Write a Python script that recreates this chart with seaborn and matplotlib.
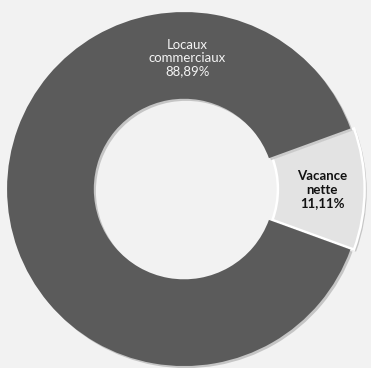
import matplotlib
matplotlib.use("Agg")
import matplotlib.pyplot as plt
import matplotlib.patheffects as pe
import seaborn as sns

# data
categories = ["Vacance\nnette", "Locaux\ncommerciaux"]
values = [11.11, 88.89]
colors = ["#e3e3e3", "#5b5b5b"]
text_colors = ["#111111", "#f4f4f4"]

sns.set_style("white")
plt.rcParams["font.family"] = ["Lato", "DejaVu Sans"]

fig = plt.figure(figsize=(3.71, 3.68), dpi=100, facecolor="#f2f2f2")
ax = fig.add_axes([0, 0, 1, 1])
ax.set_facecolor("#f2f2f2")

start = -values[0] / 100 * 360 / 2
wedges, _ = ax.pie(values, colors=colors, startangle=start, counterclock=True,
                   explode=[0.02, 0], radius=1.0,
                   wedgeprops=dict(width=0.49, linewidth=0))
wedges[0].set_edgecolor("white")
wedges[0].set_linewidth(1.8)
for w in wedges:
    w.set_path_effects([pe.SimplePatchShadow(offset=(1.5, -1.5), shadow_rgbFace="#999999", alpha=0.5),
                        pe.Normal()])

# labels
label_pos = [(0.78, -0.005), (0.02, 0.74)]
for cat, v, pos, tc in zip(categories, values, label_pos, text_colors):
    txt = cat + "\n" + f"{v:.2f}".replace(".", ",") + "%"
    ax.text(pos[0], pos[1], txt, ha="center", va="center", fontsize=9.5,
            color=tc, fontweight="bold" if tc == "#111111" else "normal",
            linespacing=1.15)

ax.set_xlim(-1.04, 1.056)
ax.set_ylim(-1.011, 1.068)
ax.set_aspect("equal")
ax.axis("off")

fig.savefig("out.png", dpi=100, facecolor=fig.get_facecolor())
